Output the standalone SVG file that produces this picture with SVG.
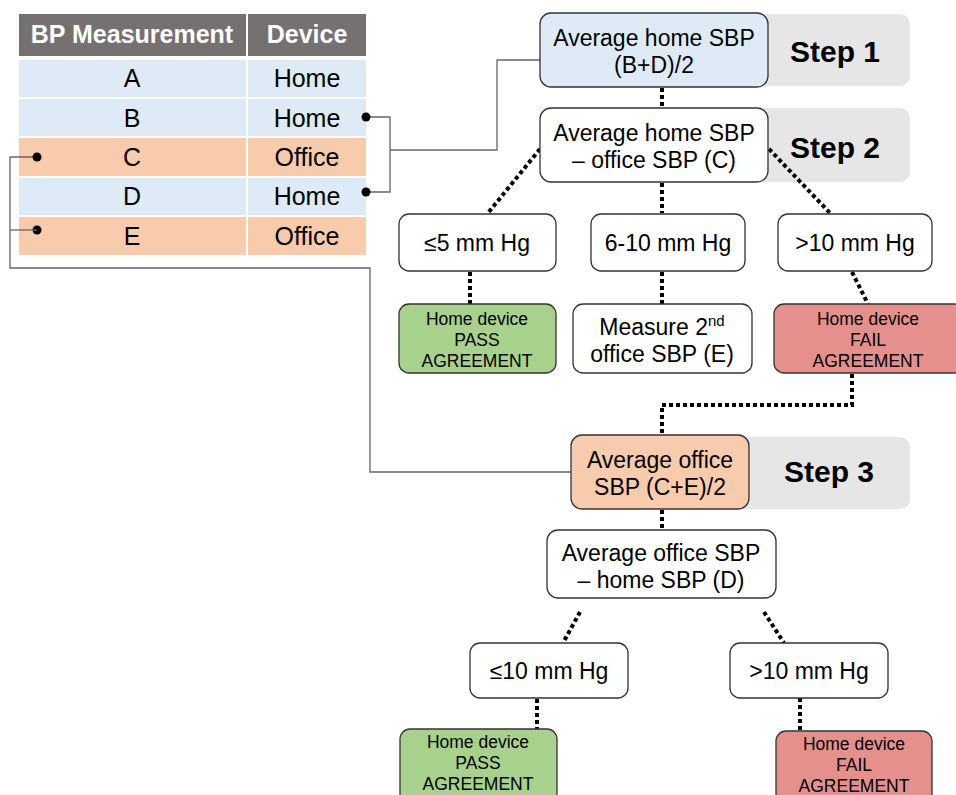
<svg xmlns="http://www.w3.org/2000/svg" width="956" height="795" viewBox="0 0 956 795">
<style>
text{font-family:"Liberation Sans",Arial,sans-serif;fill:#000;text-anchor:middle}
.hd{fill:#fff;font-weight:bold;font-size:25px}
.cell{font-size:25px}
.cb{fill:#deebf7;stroke:#fff;stroke-width:2}
.co{fill:#f8cbad;stroke:#fff;stroke-width:2}
.ch{fill:#767171;stroke:#fff;stroke-width:2}
.box{stroke:#333;stroke-width:1.3}
.w{fill:#fff}
.step{fill:#e7e6e6}
.st{font-weight:bold;font-size:30px}
.t20{font-size:23px}
.t16{font-size:17.5px}
.dot{fill:none;stroke:#000;stroke-width:4;stroke-dasharray:4 3}
.thin{fill:none;stroke:#666;stroke-width:1.3}
</style>
<g id="table">
<rect class="ch" x="18" y="13" width="229" height="44"/>
<rect class="ch" x="247" y="13" width="120" height="44"/>
<text class="hd" x="132" y="43">BP Measurement</text>
<text class="hd" x="307" y="43">Device</text>
<rect class="cb" x="18" y="59" width="229" height="39"/><rect class="cb" x="247" y="59" width="120" height="39"/>
<rect class="cb" x="18" y="98" width="229" height="39"/><rect class="cb" x="247" y="98" width="120" height="39"/>
<rect class="co" x="18" y="137" width="229" height="40"/><rect class="co" x="247" y="137" width="120" height="40"/>
<rect class="cb" x="18" y="177" width="229" height="39"/><rect class="cb" x="247" y="177" width="120" height="39"/>
<rect class="co" x="18" y="216" width="229" height="40"/><rect class="co" x="247" y="216" width="120" height="40"/>
<text class="cell" x="132" y="87">A</text><text class="cell" x="307" y="87">Home</text>
<text class="cell" x="132" y="127">B</text><text class="cell" x="307" y="127">Home</text>
<text class="cell" x="132" y="166">C</text><text class="cell" x="307" y="166">Office</text>
<text class="cell" x="132" y="205">D</text><text class="cell" x="307" y="205">Home</text>
<text class="cell" x="132" y="245">E</text><text class="cell" x="307" y="245">Office</text>
</g>
<g id="steps">
<rect class="step" x="730" y="14" width="180" height="72" rx="10"/>
<rect class="step" x="730" y="108" width="180" height="74" rx="10"/>
<rect class="step" x="730" y="437" width="180" height="72" rx="10"/>
<text class="st" x="835" y="62">Step 1</text>
<text class="st" x="835" y="158">Step 2</text>
<text class="st" x="829" y="482">Step 3</text>
</g>
<g id="connectors">
<polyline class="thin" points="366,117 390,117 390,192 366,192"/>
<polyline class="thin" points="390,150 497,150 497,60 540,60"/>
<polyline class="thin" points="37,157 10,157 10,268 370,268 370,472 571,472"/>
<circle cx="366" cy="117" r="4.5"/><circle cx="366" cy="192" r="4.5"/>
<circle cx="37" cy="157" r="4.5"/><circle cx="37" cy="230" r="4.5"/>
<line x1="10" y1="230" x2="37" y2="230" stroke="#666" stroke-width="1.3"/>
<line class="dot" x1="662" y1="88" x2="662" y2="108"/>
<line class="dot" x1="540" y1="149" x2="488" y2="213"/>
<line class="dot" x1="662" y1="183" x2="662" y2="213"/>
<line class="dot" x1="769" y1="149" x2="830" y2="213"/>
<line class="dot" x1="470" y1="272" x2="470" y2="304"/>
<line class="dot" x1="662" y1="272" x2="662" y2="304"/>
<line class="dot" x1="852" y1="272" x2="868" y2="304"/>
<polyline class="dot" points="852,374 852,405 662,405 662,435"/>
<line class="dot" x1="662" y1="510" x2="662" y2="530"/>
<line class="dot" x1="580" y1="612" x2="563" y2="643"/>
<line class="dot" x1="764" y1="612" x2="784" y2="643"/>
<line class="dot" x1="537" y1="699" x2="537" y2="729"/>
<line class="dot" x1="800" y1="698" x2="800" y2="731"/>
</g>
<g id="n-step1">
<rect class="box" x="540" y="13" width="228" height="74" rx="11" fill="#deebf7"/>
<text class="t20" x="654" y="46">Average home SBP</text>
<text class="t20" x="654" y="73">(B+D)/2</text>
</g>
<g id="n-step2">
<rect class="box w" x="540" y="108" width="228" height="74" rx="11"/>
<text class="t20" x="654" y="141">Average home SBP</text>
<text class="t20" x="654" y="168">– office SBP (C)</text>
</g>
<g id="n-le5">
<rect class="box w" x="399" y="214" width="157" height="57" rx="10"/>
<text class="t20" x="477" y="251">≤5 mm Hg</text>
</g>
<g id="n-6to10">
<rect class="box w" x="591" y="214" width="154" height="57" rx="10"/>
<text class="t20" x="668" y="251">6-10 mm Hg</text>
</g>
<g id="n-gt10a">
<rect class="box w" x="778" y="214" width="154" height="57" rx="10"/>
<text class="t20" x="855" y="251">&gt;10 mm Hg</text>
</g>
<g id="n-pass1">
<rect class="box" x="399" y="304" width="157" height="69" rx="10" fill="#a9d18e"/>
<text class="t16" x="477" y="325">Home device</text>
<text class="t16" x="477" y="346">PASS</text>
<text class="t16" x="477" y="367">AGREEMENT</text>
</g>
<g id="n-measure">
<rect class="box w" x="573" y="304" width="179" height="69" rx="10"/>
<text class="t20" x="662" y="335">Measure 2<tspan font-size="15" dy="-9">nd</tspan></text>
<text class="t20" x="662" y="362">office SBP (E)</text>
</g>
<g id="n-fail1">
<rect class="box" x="774" y="304" width="190" height="69" rx="10" fill="#e6908e"/>
<text class="t16" x="868" y="325">Home device</text>
<text class="t16" x="868" y="346">FAIL</text>
<text class="t16" x="868" y="367">AGREEMENT</text>
</g>
<g id="n-step3">
<rect class="box" x="571" y="435" width="178" height="74" rx="11" fill="#f8cbad"/>
<text class="t20" x="660" y="468">Average office</text>
<text class="t20" x="660" y="495">SBP (C+E)/2</text>
</g>
<g id="n-diff2">
<rect class="box w" x="547" y="530" width="229" height="68" rx="11"/>
<text class="t20" x="661" y="561">Average office SBP</text>
<text class="t20" x="661" y="588">– home SBP (D)</text>
</g>
<g id="n-le10">
<rect class="box w" x="470" y="643" width="158" height="55" rx="10"/>
<text class="t20" x="549" y="679">≤10 mm Hg</text>
</g>
<g id="n-gt10b">
<rect class="box w" x="730" y="643" width="158" height="55" rx="10"/>
<text class="t20" x="809" y="679">&gt;10 mm Hg</text>
</g>
<g id="n-pass2">
<rect class="box" x="400" y="729" width="157" height="75" rx="10" fill="#a9d18e"/>
<text class="t16" x="478" y="748">Home device</text>
<text class="t16" x="478" y="769">PASS</text>
<text class="t16" x="478" y="790">AGREEMENT</text>
</g>
<g id="n-fail2">
<rect class="box" x="776" y="731" width="156" height="75" rx="10" fill="#e6908e"/>
<text class="t16" x="854" y="750">Home device</text>
<text class="t16" x="854" y="771">FAIL</text>
<text class="t16" x="854" y="792">AGREEMENT</text>
</g>
</svg>
